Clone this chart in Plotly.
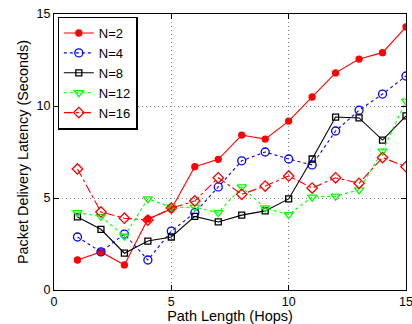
import plotly.graph_objects as go

hops = list(range(1, 16))
n2 = [1.63, 2.07, 1.36, 3.86, 4.4, 6.7, 7.1, 8.42, 8.2, 9.18, 10.49, 11.8, 12.55, 12.9, 14.3]
n4 = [2.88, 2.07, 3.04, 1.63, 3.2, 4.2, 5.6, 7.02, 7.5, 7.12, 6.8, 8.64, 9.77, 10.65, 11.63]
n8 = [3.97, 3.3, 2.0, 2.66, 2.88, 4.0, 3.7, 4.07, 4.3, 4.95, 7.12, 9.4, 9.35, 8.15, 9.46]
n12 = [4.2, 4.0, 2.93, 4.95, 4.5, 4.5, 4.2, 5.6, 4.46, 4.1, 5.05, 5.1, 5.44, 7.55, 10.27]
n16 = [6.58, 4.24, 3.9, 3.8, 4.45, 4.84, 6.1, 5.2, 5.65, 6.2, 5.54, 6.1, 5.8, 7.2, 6.7]
tick_vals = [0, 5, 10, 15]

series = [
    ("N=2", n2, "#ff0000", "solid", "circle", 6),
    ("N=4", n4, "#0000ff", "dot", "circle-open", 8),
    ("N=8", n8, "#000000", "solid", "square-open", 6),
    ("N=12", n12, "#00ff00", "dot", "triangle-down-open", 8),
    ("N=16", n16, "#ff0000", "dashdot", "diamond-open", 8),
]

fig = go.Figure()
for name, ys, color, dash, sym, sz in series:
    fig.add_trace(go.Scatter(
        x=hops, y=ys, name=name, mode="lines+markers",
        line=dict(color=color, width=1.1, dash=dash),
        marker=dict(symbol=sym, size=sz, color=color, line=dict(color=color, width=1.3)),
    ))

axis_common = dict(
    showline=True, linecolor="black", linewidth=1.3, mirror="ticks",
    ticks="inside", ticklen=5, tickcolor="black",
    showgrid=True, gridcolor="#888888", griddash="1px,3px", gridwidth=1,
    zeroline=False, tickfont=dict(size=12.5, color="black"),
    ticklabeloverflow="allow", tickvals=tick_vals, automargin=False,
)

fig.update_layout(
    width=412, height=324,
    margin=dict(l=54, r=6, t=14, b=34),
    paper_bgcolor="white", plot_bgcolor="white",
    font=dict(family="Liberation Sans, Arial, sans-serif", color="black"),
    xaxis=dict(range=[-0.0001, 15.0001],
               title=dict(text="Path Length (Hops)", font=dict(size=14.5), standoff=8),
               **axis_common),
    yaxis=dict(range=[-0.0001, 15.0001],
               title=dict(text="Packet Delivery Latency (Seconds)", font=dict(size=14.4), standoff=4),
               **axis_common),
    legend=dict(x=0.01, y=0.99, xanchor="left", yanchor="top",
                bgcolor="white", bordercolor="black", borderwidth=1.3,
                font=dict(size=13), tracegroupgap=0, itemwidth=30),
    showlegend=True,
)

fig.write_html(
    "out.html",
    post_script="document.documentElement.style.overflow='hidden';document.body.style.overflow='hidden';window.scrollTo(0,0);",
)
